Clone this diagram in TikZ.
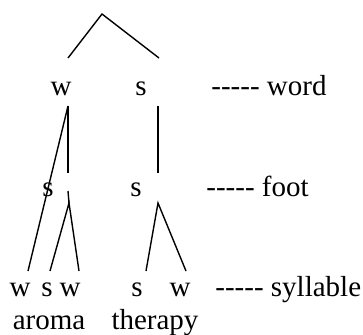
\documentclass[tikz,border=0pt]{standalone}
\usepackage{fontspec}
\setmainfont{Liberation Serif}[Ligatures=TeXOff]
\tikzset{
	every node/.style={inner sep=0pt,anchor=base,font=\fontsize{14.5}{17}\selectfont},
	branch/.style={line width=0.7pt,draw=black},
	tier/.style={anchor=base west},
}

\begin{document}
\begin{tikzpicture}[x=0.5pt,y=-0.5pt]
	\useasboundingbox (0,0) rectangle (363,334);

	% word level
	\coordinate (root) at (102,14);
	\coordinate (wtop) at (68,58);
	\coordinate (stop) at (159,58);
	\node (ww) at (61,95) {w};
	\node (ws) at (141,95) {s};
	\node[tier] (tword) at (211,95) {----- word};

	% foot level
	\coordinate (wbot) at (68,106);
	\coordinate (sbot) at (158,106);
	\coordinate (wfoot) at (68,173);
	\coordinate (sfoot) at (158,173);
	\node (fl) at (48,196) {s};
	\node (fr) at (136,196) {s};
	\node[tier] (tfoot) at (206,196) {----- foot};
	\coordinate (fla) at (68,191);
	\coordinate (flb) at (69,203);
	\coordinate (frb) at (158,203);

	% syllable level
	\coordinate (e1) at (28,271);
	\coordinate (e2) at (50,271);
	\coordinate (e3) at (79,271);
	\coordinate (e4) at (146,271);
	\coordinate (e5) at (186,271);
	\node (s1) at (20,296) {w};
	\node (s2) at (47,296) {s};
	\node (s3) at (70,296) {w};
	\node (s4) at (137,296) {s};
	\node (s5) at (180,296) {w};
	\node[tier] (tsyl) at (215,296) {----- syllable};

	\node (aroma) at (49,329) {aroma};
	\node (therapy) at (155,329) {therapy};

	\path[branch] (wtop) -- (root) -- (stop);
	\path[branch] (wbot) -- (wfoot);
	\path[branch] (wbot) -- (e1);
	\path[branch] (sbot) -- (sfoot);
	\path[branch] (fla) -- (flb);
	\path[branch] (e2) -- (flb) -- (e3);
	\path[branch] (e4) -- (frb) -- (e5);
\end{tikzpicture}
\end{document}
